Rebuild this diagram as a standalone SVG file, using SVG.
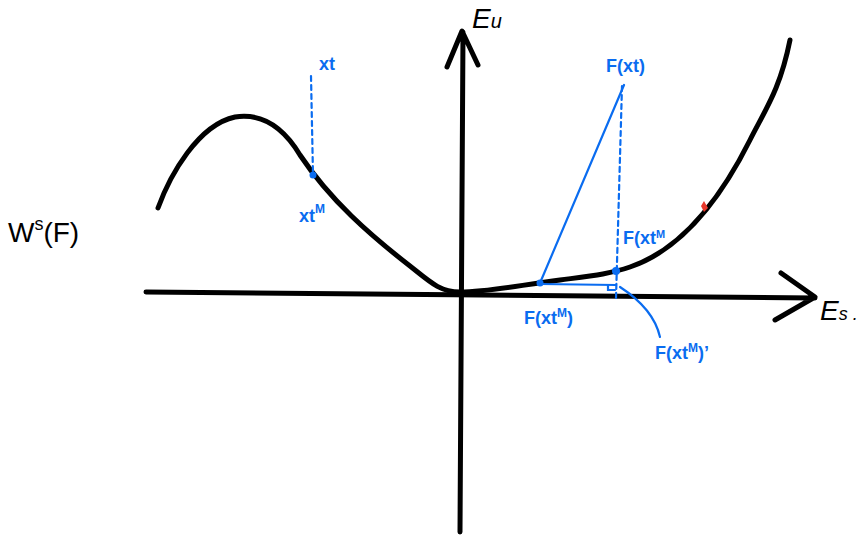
<svg xmlns="http://www.w3.org/2000/svg" width="860" height="536" viewBox="0 0 860 536">
<style>
.ax{fill:none;stroke:#000;stroke-width:5;stroke-linecap:round;stroke-linejoin:round}
.bl{fill:none;stroke:#0a6cf0;stroke-width:2.2;stroke-linecap:round}
.dash{stroke-dasharray:5 4}
.bt{fill:#0a6cf0;font-family:"Liberation Sans",sans-serif;font-size:18px;font-weight:bold}
.kt{fill:#000;font-family:"Liberation Sans",sans-serif;font-size:28px}
.dot{fill:#0a6cf0}
</style>
<rect width="860" height="536" fill="#fff"/>
<g id="connectors">
<path id="x-axis" class="ax" d="M146 292 L815 298 M781 273 L815 297 L775 320"/>
<path id="y-axis" class="ax" d="M460 532 L463 32 M447 67 L462 31 L478 65"/>
<path id="curve" class="ax" d="M158 208 C170 175 198 125 235 117 C268 112 288 135 300 155 C330 200 370 235 410 266 C430 282 440 292 460 292 C490 292 520 285 560 280 C590 276 610 274 630 267 C680 250 720 200 750 140 C765 110 780 90 790 40"/>
<path id="red-mark" d="M704 201 L708 208 L704 212 L701 206 Z" fill="#e8392c"/>
<path class="bl dash" d="M311 76 L313 175"/>
<path class="bl" d="M540 283 L624 85"/>
<path class="bl dash" d="M622 86 L616 298"/>
<path class="bl" d="M540 284 L616 285"/>
<path class="bl" d="M608 285 L608 290 L615 290"/>
<path class="bl" d="M620 287 C640 300 655 315 660 337"/>
</g>
<g id="node-xt"><text class="bt" x="319" y="70">xt</text></g>
<g id="node-xtM"><circle class="dot" cx="313" cy="175" r="3.5"/><text class="bt" x="299" y="222">xt<tspan dy="-9" font-size="12">M</tspan></text></g>
<g id="node-Fxt"><text class="bt" x="606" y="72">F(xt)</text></g>
<g id="node-FxtM-upper"><circle class="dot" cx="616" cy="271" r="4"/><text class="bt" x="623" y="244" font-size="15">F(xt<tspan dy="-6" font-size="11">M</tspan></text></g>
<g id="node-FxtM-lower"><circle class="dot" cx="540" cy="283" r="3.5"/><text class="bt" x="524" y="324">F(xt<tspan dy="-7" font-size="12">M</tspan><tspan dy="7">)</tspan></text></g>
<g id="node-FxtM-prime"><text class="bt" x="655" y="359">F(xt<tspan dy="-7" font-size="12">M</tspan><tspan dy="7">)’</tspan></text></g>
<g id="label-W"><text class="kt" x="8" y="242">W<tspan dy="-12" font-size="18">s</tspan><tspan dy="12">(F)</tspan></text></g>
<g id="label-Es"><text class="kt" x="820" y="320" font-size="26" font-style="italic">E<tspan font-size="18">s</tspan><tspan font-size="18"> .</tspan></text></g>
<g id="label-Eu"><text class="kt" x="472" y="28" font-style="italic">E<tspan font-size="20">u</tspan></text></g>
</svg>
